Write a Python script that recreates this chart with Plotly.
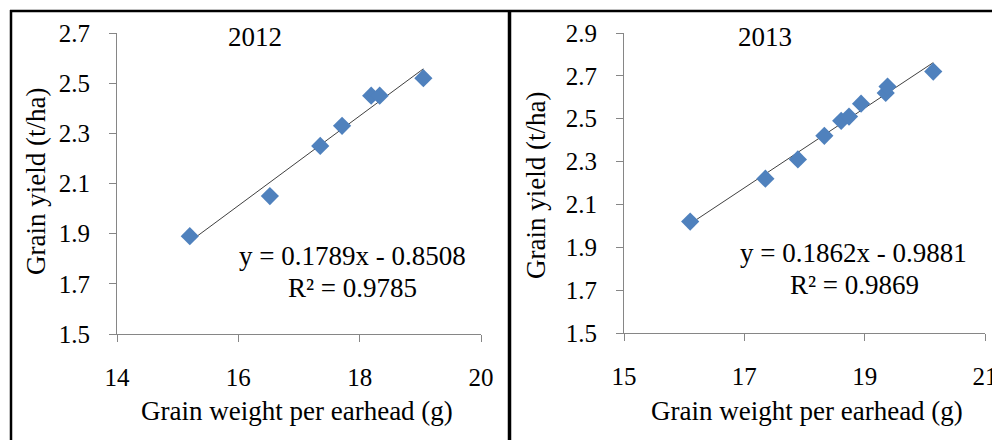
import plotly.graph_objects as go

# ---- data ----
x2012 = [15.2, 16.52, 17.35, 17.71, 18.19, 18.33, 19.05]
y2012 = [1.89, 2.05, 2.25, 2.33, 2.45, 2.45, 2.52]
slope2012, icpt2012, r2_2012 = 0.1789, -0.8508, 0.9785

x2013 = [16.10, 17.35, 17.89, 18.33, 18.61, 18.74, 18.94, 19.35, 19.38, 20.14]
y2013 = [2.02, 2.22, 2.31, 2.42, 2.49, 2.51, 2.57, 2.62, 2.65, 2.72]
slope2013, icpt2013, r2_2013 = 0.1862, -0.9881, 0.9869

xticks2012 = [14, 16, 18, 20]
yticks2012 = [1.5, 1.7, 1.9, 2.1, 2.3, 2.5, 2.7]
xticks2013 = [15, 17, 19, 21]
yticks2013 = [1.5, 1.7, 1.9, 2.1, 2.3, 2.5, 2.7, 2.9]

titles = ["2012", "2013"]
xtitle = "Grain weight per earhead (g)"
ytitle = "Grain yield (t/ha)"

# page body has an 8px default margin: figure is drawn offset by (8, 8)
OX, OY = 8, 8
W, H = 1000 - OX, 440 - OY
FONT = "Liberation Serif, Times New Roman, serif"
MARK = "#4F81BD"
AX = "#868686"

def px(x):
    return (x - OX) / W

def py(y):
    return 1 - (y - OY) / H

fig = go.Figure()

def trend(xs, m, b):
    lo, hi = min(xs), max(xs)
    return [lo, hi], [m * lo + b, m * hi + b]

tx, ty = trend(x2012, slope2012, icpt2012)
fig.add_trace(go.Scatter(x=tx, y=ty, mode="lines", line=dict(color="#404040", width=1),
                         xaxis="x", yaxis="y", showlegend=False, hoverinfo="skip"))
fig.add_trace(go.Scatter(x=x2012, y=y2012, mode="markers",
                         marker=dict(symbol="diamond", size=14, color=MARK),
                         xaxis="x", yaxis="y", showlegend=False))
tx, ty = trend(x2013, slope2013, icpt2013)
fig.add_trace(go.Scatter(x=tx, y=ty, mode="lines", line=dict(color="#404040", width=1),
                         xaxis="x2", yaxis="y2", showlegend=False, hoverinfo="skip"))
fig.add_trace(go.Scatter(x=x2013, y=y2013, mode="markers",
                         marker=dict(symbol="diamond", size=14, color=MARK),
                         xaxis="x2", yaxis="y2", showlegend=False))

axcommon = dict(showgrid=False, zeroline=False, showline=True, linecolor=AX, linewidth=1,
                ticks="outside", ticklen=7, tickcolor=AX, tickwidth=1, automargin=False,
                tickfont=dict(family=FONT, size=25, color="#000"))

fig.update_layout(
    width=W, height=H, margin=dict(l=0, r=0, t=0, b=0, autoexpand=False),
    paper_bgcolor="white", plot_bgcolor="white",
    xaxis=dict(domain=[px(117), px(481)], range=[14, 20], tickvals=xticks2012,
               anchor="y", ticklabelstandoff=14, **axcommon),
    yaxis=dict(domain=[py(334), py(33)], range=[1.5, 2.7], tickvals=yticks2012,
               tickformat=".1f", anchor="x", ticklabelstandoff=14, **axcommon),
    xaxis2=dict(domain=[px(624), px(985)], range=[15, 21], tickvals=xticks2013,
                anchor="y2", ticklabelstandoff=14, **axcommon),
    yaxis2=dict(domain=[py(333), py(33)], range=[1.5, 2.9], tickvals=yticks2013,
                tickformat=".1f", anchor="x2", ticklabelstandoff=14, **axcommon),
)

def ann(text, x, y, size=25, angle=0):
    fig.add_annotation(text=text, x=px(x), y=py(y), xref="paper", yref="paper",
                       showarrow=False, xanchor="center", yanchor="middle",
                       textangle=angle, font=dict(family=FONT, size=size, color="#000"))

ann(titles[0], 255, 37, 27)
ann(titles[1], 765, 37, 27)
ann(xtitle, 297, 411, 27)
ann(xtitle, 807, 411, 27)
ann(ytitle, 36, 182, 27, -90)
ann(ytitle, 536, 186, 27, -90)
ann(f"y = {slope2012}x - {abs(icpt2012):.4f}", 352, 256, 27)
ann(f"R² = {r2_2012}", 352, 288, 27)
ann(f"y = {slope2013}x - {abs(icpt2013):.4f}", 853, 253, 27)
ann(f"R² = {r2_2013}", 854, 285, 27)

# panel frames
def line(x0, y0, x1, y1, w):
    fig.add_shape(type="line", xref="paper", yref="paper",
                  x0=px(x0), y0=py(y0), x1=px(x1), y1=py(y1),
                  line=dict(color="black", width=w))

line(10, 11, 1000, 11, 2.5)
line(11, 10, 11, 440, 2.5)
line(509.5, 10, 509.5, 440, 3.5)

fig.write_html("out.html")
